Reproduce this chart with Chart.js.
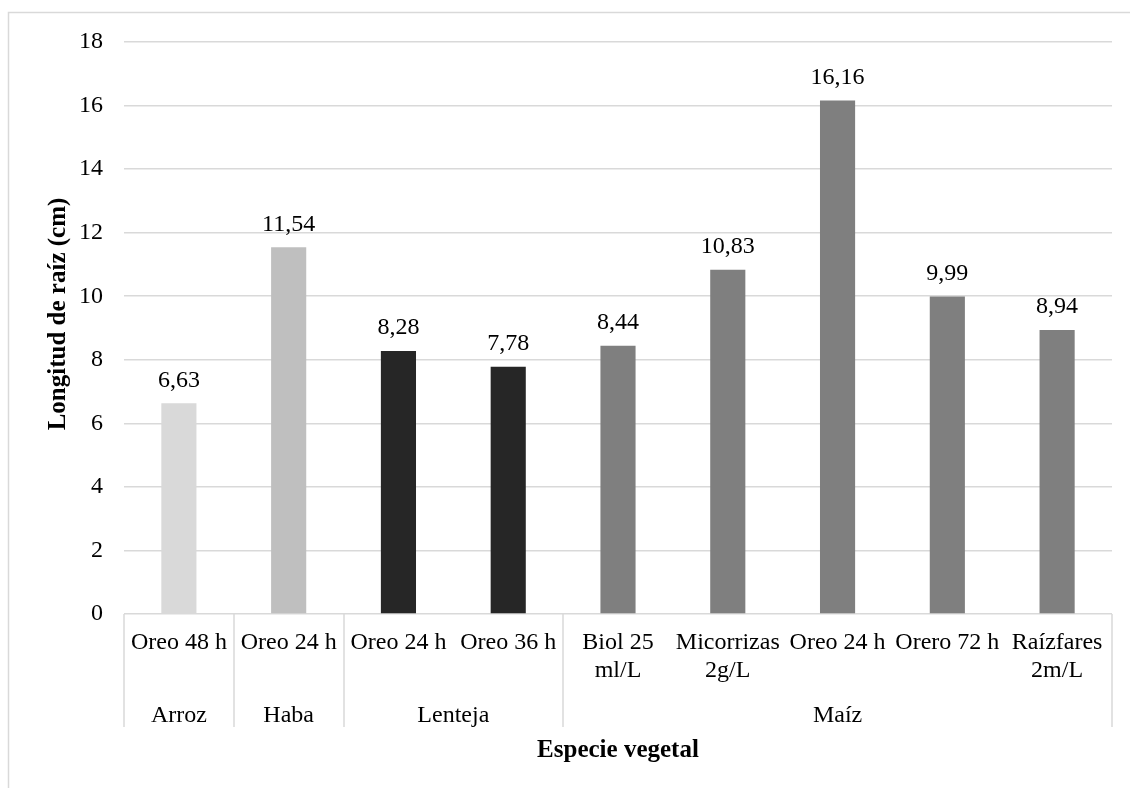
<!DOCTYPE html>
<html lang="es">
<head>
<meta charset="utf-8">
<title>Longitud de raíz por especie vegetal</title>
<script src="https://cdn.jsdelivr.net/npm/chart.js@4.4.1/dist/chart.umd.min.js"></script>
<style>
  html, body { margin: 0; padding: 0; background: #ffffff; }
  #wrap { position: relative; width: 1130px; height: 788px; }
</style>
</head>
<body>
<div id="wrap"><canvas id="chart"></canvas></div>
<script>
// Tratamientos (etiquetas de categoría, con saltos de línea)
const categories = [
  ["Oreo 48 h"],
  ["Oreo 24 h"],
  ["Oreo 24 h"],
  ["Oreo 36 h"],
  ["Biol 25", "ml/L"],
  ["Micorrizas", "2g/L"],
  ["Oreo 24 h"],
  ["Orero 72 h"],
  ["Raízfares", "2m/L"]
];
// Especie a la que pertenece cada grupo de tratamientos, y cuántos tratamientos abarca
const species = ["Arroz", "Haba", "Lenteja", "Maíz"];
const speciesCounts = [1, 1, 2, 5];
// Longitud de raíz (cm)
const rootLength = [6.63, 11.54, 8.28, 7.78, 8.44, 10.83, 16.16, 9.99, 8.94];
// Marcas del eje Y
const yTicks = [0, 2, 4, 6, 8, 10, 12, 14, 16, 18];
const xTitle = "Especie vegetal";
const yTitle = "Longitud de raíz (cm)";

// Color de relleno por especie
const speciesColors = ["#d9d9d9", "#bfbfbf", "#262626", "#7f7f7f"];

const FONT = "'Liberation Serif', 'Times New Roman', serif";
const GRID = "#d9d9d9";

// Color de cada barra según su especie
const barColors = [];
speciesCounts.forEach((n, g) => { for (let i = 0; i < n; i++) barColors.push(speciesColors[g]); });

const fmt = v => v.toFixed(2).replace(".", ",");

// Marco exterior, etiquetas de valor, segundo nivel del eje X y títulos de ejes
const decorations = {
  id: "decorations",
  beforeDraw(chart) {
    const ctx = chart.ctx;
    ctx.save();
    ctx.strokeStyle = GRID;
    ctx.lineWidth = 1.5;
    ctx.beginPath();
    ctx.moveTo(8.5, chart.height + 5);
    ctx.lineTo(8.5, 12.5);
    ctx.lineTo(chart.width + 5, 12.5);
    ctx.stroke();
    ctx.restore();
  },
  afterDraw(chart) {
    const ctx = chart.ctx;
    const x = chart.scales.x;
    const area = chart.chartArea;
    const meta = chart.getDatasetMeta(0);
    ctx.save();

    // valores sobre las barras
    ctx.fillStyle = "#000";
    ctx.font = "24px " + FONT;
    ctx.textAlign = "center";
    ctx.textBaseline = "alphabetic";
    meta.data.forEach((bar, i) => {
      ctx.fillText(fmt(rootLength[i]), bar.x, bar.y - 16.5);
    });

    // límites entre especies y sus nombres
    const half = (x.getPixelForValue(1) - x.getPixelForValue(0)) / 2;
    const lineBottom = 727;
    ctx.strokeStyle = GRID;
    ctx.lineWidth = 1.5;
    let start = 0;
    const edges = [x.getPixelForValue(0) - half];
    speciesCounts.forEach((n, g) => {
      const left = x.getPixelForValue(start) - half;
      const right = x.getPixelForValue(start + n - 1) + half;
      edges.push(right);
      ctx.fillText(species[g], (left + right) / 2, 722);
      start += n;
    });
    ctx.beginPath();
    edges.forEach(px => {
      const p = Math.round(px);
      ctx.moveTo(p, area.bottom);
      ctx.lineTo(p, lineBottom);
    });
    ctx.stroke();

    // título del eje X
    ctx.font = "bold 25px " + FONT;
    ctx.fillText(xTitle, (area.left + area.right) / 2, 757);

    // título del eje Y
    ctx.translate(59, 314);
    ctx.rotate(-Math.PI / 2);
    ctx.textBaseline = "middle";
    ctx.fillText(yTitle, 0, 0);
    ctx.restore();
  }
};

new Chart(document.getElementById("chart"), {
  type: "bar",
  data: {
    labels: categories,
    datasets: [{
      data: rootLength,
      backgroundColor: barColors,
      borderWidth: 0,
      categoryPercentage: 1,
      barPercentage: 0.32
    }]
  },
  options: {
    responsive: true,
    maintainAspectRatio: false,
    devicePixelRatio: 1,
    animation: false,
    layout: { padding: { left: 0, top: 42, right: 18, bottom: 0 } },
    plugins: {
      legend: { display: false },
      tooltip: { enabled: false }
    },
    scales: {
      x: {
        grid: { display: false, drawTicks: false },
        border: { display: false },
        ticks: {
          color: "#000",
          font: { family: FONT, size: 24, lineHeight: 1.2 },
          padding: 14,
          maxRotation: 0,
          autoSkip: false
        },
        afterFit(scale) { scale.height = 174; }
      },
      y: {
        min: 0,
        max: 18,
        afterBuildTicks(scale) { scale.ticks = yTicks.map(v => ({ value: v })); },
        grid: { color: GRID, lineWidth: 1.5, drawTicks: false },
        border: { display: false },
        ticks: {
          color: "#000",
          font: { family: FONT, size: 24 },
          padding: 21
        },
        afterFit(scale) { scale.width = 124; }
      }
    }
  },
  plugins: [decorations]
});
</script>
</body>
</html>
